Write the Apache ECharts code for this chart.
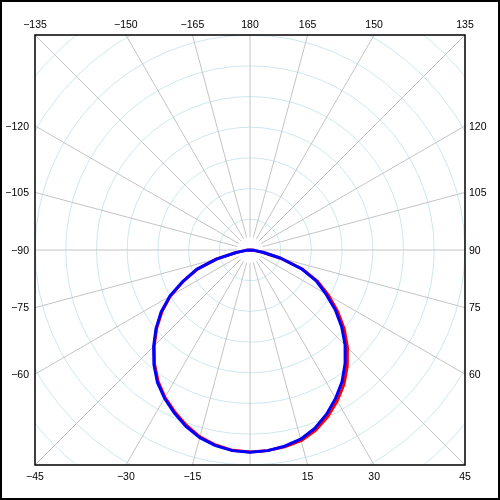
<!DOCTYPE html>
<html>
<head>
<meta charset="utf-8">
<script src="https://cdn.jsdelivr.net/npm/echarts@6/dist/echarts.min.js"></script>
<style>
  html, body { margin: 0; padding: 0; background: #fff; }
  #main { width: 500px; height: 500px; }
</style>
</head>
<body>
<div id="main"></div>
<script>
  // angles in degrees, 0 = down, 90 = right, 180 = up
  var angles = [-90, -85, -80, -75, -70, -65, -60, -55, -50, -45, -40, -35, -30, -25, -20, -15, -10, -5,
    0, 5, 10, 15, 20, 25, 30, 35, 40, 45, 50, 55, 60, 65, 70, 75, 80, 85, 90];
  // radius, one ring = 1
  var redR = [0, 0.13, 0.44, 1.11, 1.82, 2.38, 2.99, 3.50, 3.97, 4.41, 4.84, 5.22, 5.54, 5.81, 6.07, 6.30, 6.45, 6.55,
    6.58, 6.56, 6.51, 6.43, 6.25, 5.99, 5.68, 5.34, 4.93, 4.49, 4.01, 3.48, 2.95, 2.43, 1.81, 1.01, 0.42, 0.13, 0];
  var blueR = [0, 0.13, 0.46, 1.14, 1.85, 2.41, 3.02, 3.54, 4.00, 4.44, 4.87, 5.26, 5.57, 5.85, 6.11, 6.33, 6.47, 6.56,
    6.59, 6.56, 6.49, 6.38, 6.18, 5.90, 5.58, 5.23, 4.82, 4.38, 3.90, 3.39, 2.85, 2.38, 1.79, 1.04, 0.42, 0.13, 0];
  // labels round the frame (0 is not labelled)
  var labelAngles = [-165, -150, -135, -120, -105, -90, -75, -60, -45, -30, -15,
    15, 30, 45, 60, 75, 90, 105, 120, 135, 150, 165, 180];

  var cx = 250, cy = 250, half = 215;

  function zip(rs) {
    var out = [];
    for (var i = 0; i < angles.length; i++) out.push([rs[i], angles[i]]);
    return out;
  }

  var graphics = [
    // masks outside the inner square
    { type: 'rect', z: 1, shape: { x: 0, y: 0, width: 500, height: cy - half }, style: { fill: '#fff' } },
    { type: 'rect', z: 1, shape: { x: 0, y: cy + half, width: 500, height: 500 - cy - half }, style: { fill: '#fff' } },
    { type: 'rect', z: 1, shape: { x: 0, y: 0, width: cx - half, height: 500 }, style: { fill: '#fff' } },
    { type: 'rect', z: 1, shape: { x: cx + half, y: 0, width: 500 - cx - half, height: 500 }, style: { fill: '#fff' } },
    // gap in the spokes at the centre
    { type: 'circle', z: 1, shape: { cx: cx, cy: cy, r: 13 }, style: { fill: '#fff' } },
    // frames
    { type: 'rect', z: 5, shape: { x: cx - half, y: cy - half, width: 2 * half, height: 2 * half },
      style: { fill: 'none', stroke: '#000', lineWidth: 1.5 } },
    { type: 'rect', z: 5, shape: { x: 1, y: 1, width: 498, height: 498 },
      style: { fill: 'none', stroke: '#000', lineWidth: 2 } }
  ];

  for (var i = 0; i < labelAngles.length; i++) {
    var a = labelAngles[i] * Math.PI / 180;
    var dx = Math.sin(a), dy = Math.cos(a);
    var t = half / Math.max(Math.abs(dx), Math.abs(dy));
    var px = cx + dx * t, py = cy + dy * t;
    var txt = String(labelAngles[i]).replace('-', '\u2212');
    var st = { text: txt, fill: '#000', font: '10.5px "Liberation Sans", Arial, sans-serif' };
    if (Math.abs(dy) >= Math.abs(dx) - 1e-9) {
      st.x = px; st.align = 'center'; st.verticalAlign = 'middle';
      st.y = dy < 0 ? py - 10 : py + 12.5;
    } else {
      st.y = py + 1; st.verticalAlign = 'middle';
      if (dx < 0) { st.x = px - 6; st.align = 'right'; }
      else { st.x = px + 4; st.align = 'left'; }
    }
    graphics.push({ type: 'text', z: 6, style: st });
  }

  var myChart = echarts.init(document.getElementById('main'));
  myChart.setOption({
    animation: false,
    polar: { center: [cx, cy], radius: 307 },
    angleAxis: {
      type: 'value', min: -180, max: 180, interval: 15,
      startAngle: 90, clockwise: false, z: 0,
      axisLine: { show: false }, axisTick: { show: false }, axisLabel: { show: false },
      splitLine: { show: true, lineStyle: { color: '#c4c4c4', width: 1 } }
    },
    radiusAxis: {
      type: 'value', min: 0, max: 10, interval: 1, z: 0,
      axisLine: { show: false }, axisTick: { show: false }, axisLabel: { show: false },
      splitLine: { show: true, lineStyle: { color: '#cde7ee', width: 1 } }
    },
    graphic: graphics,
    series: [
      {
        name: 'red', type: 'line', coordinateSystem: 'polar', z: 2,
        showSymbol: false, data: zip(redR),
        lineStyle: { color: '#ff0000', width: 3 }
      },
      {
        name: 'blue', type: 'line', coordinateSystem: 'polar', z: 3,
        showSymbol: false, data: zip(blueR),
        lineStyle: { color: '#0000ff', width: 3 }
      }
    ]
  });
</script>
</body>
</html>
